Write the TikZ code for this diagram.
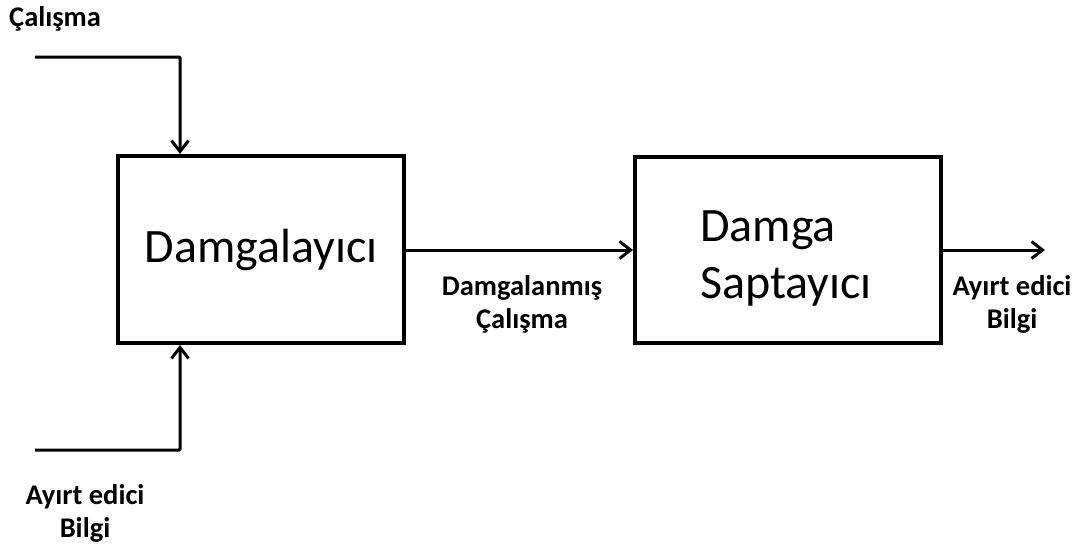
\documentclass[tikz,border=0pt]{standalone}
\usepackage{fontspec}
\setmainfont{Carlito}
\usetikzlibrary{arrows.meta}
\begin{document}
\begin{tikzpicture}[x=1pt,y=-1pt,
  block/.style={draw,line width=4pt,inner sep=0pt,
    font=\fontsize{48}{57}\selectfont},
  lbl/.style={font=\bfseries\fontsize{28.5}{33}\selectfont,align=center,inner sep=0pt},
  flow/.style={line width=3pt,-{Straight Barb[length=11pt,width=17pt,line width=3pt]}}]
  \useasboundingbox (0,0) rectangle (1090,549);

  % processing blocks
  \node[block,minimum width=286pt,minimum height=187pt] (emb) at (261,249.5) {Damgalayıcı};
  \node[block,minimum width=306pt,minimum height=186pt,align=left] (det) at (788,250)
    {\rule{0pt}{48pt}\hspace{-4pt}Damga\\\hspace{-4pt}Saptayıcı};

  % input work (top) and distinguishing information (bottom)
  \coordinate (inA) at (35,57);
  \coordinate (kA) at (180,57);
  \coordinate (inB) at (35,450);
  \coordinate (kB) at (180,450);
  \draw[flow,rounded corners=1pt] (inA) -- (kA) -- (kA |- emb.north);
  \draw[flow,rounded corners=1pt] (inB) -- (kB) -- (kB |- emb.south);

  % watermarked work into the detector, result out
  \draw[flow] (emb.east |- 0,250) -- (det.west |- 0,250);
  \coordinate (out) at (1045,250);
  \draw[flow] (det.east |- out) -- (out);

  % labels
  \node[lbl,anchor=west] (lA) at (9,19) {Çalışma};
  \node[lbl] (lB) at (85,513) {Ayırt edici\\Bilgi};
  \node[lbl] (lW) at (522,304) {Damgalanmış\\Çalışma};
  \node[lbl] (lO) at (1012,304) {Ayırt edici\\Bilgi};
\end{tikzpicture}
\end{document}
